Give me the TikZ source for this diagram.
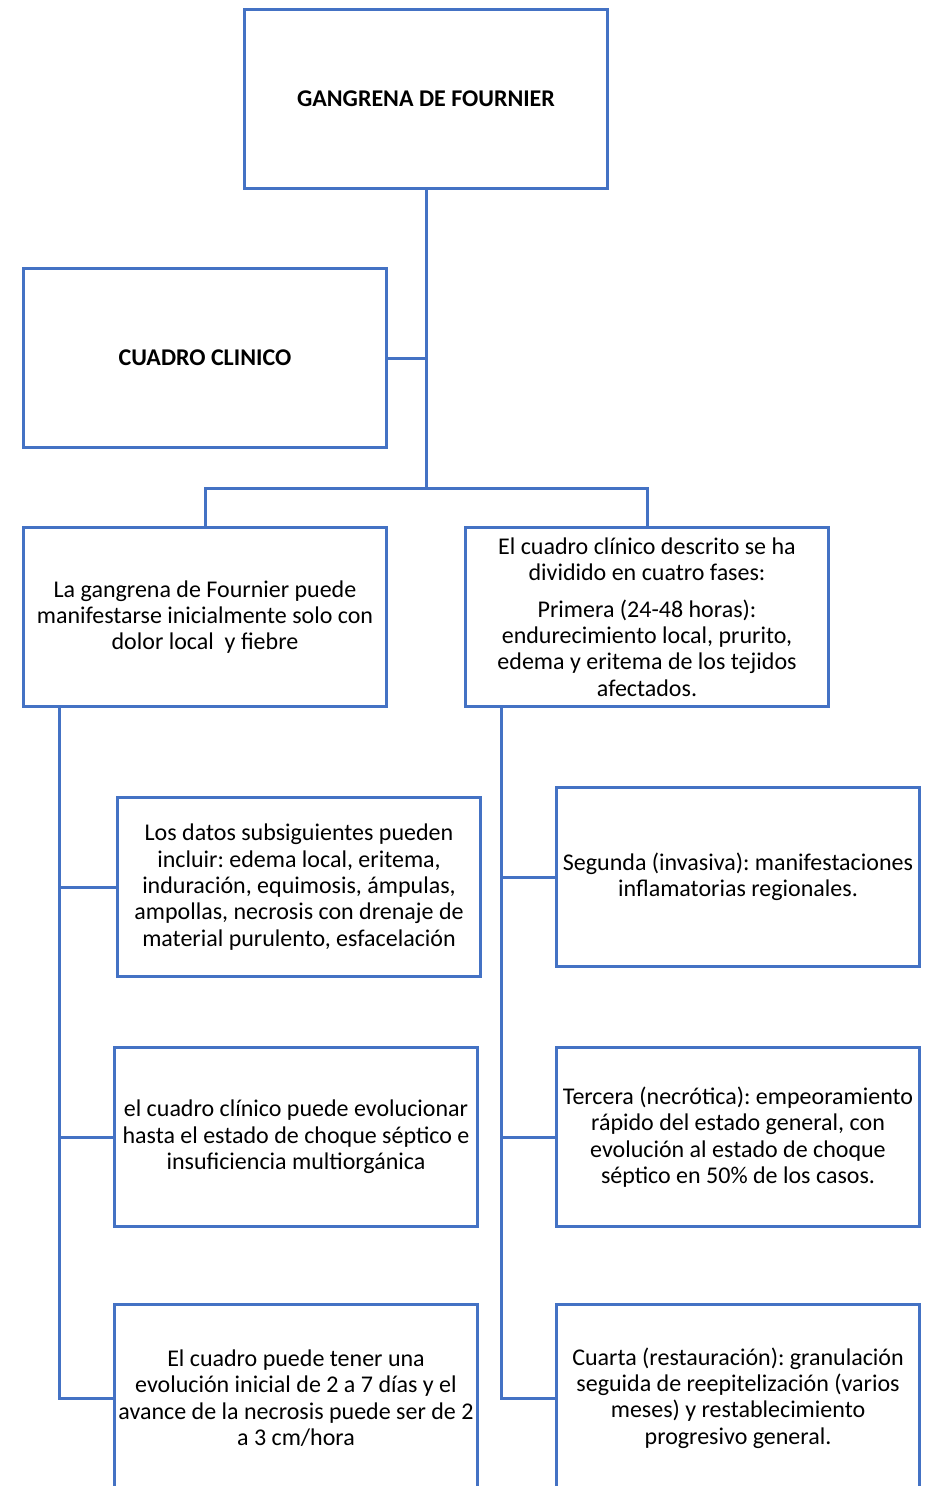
\documentclass[tikz,border=0pt]{standalone}
\usepackage{fontspec}
\setmainfont{Carlito}
\frenchspacing
\definecolor{boxblue}{HTML}{4472C4}
\begin{document}
\begin{tikzpicture}[x=1pt, y=-1pt,
    every node/.style={font=\fontsize{24}{26.4}\selectfont},
    box/.style={rectangle, draw=boxblue, line width=3pt, minimum width=363pt, minimum height=179pt, align=center, inner sep=2pt},
    lastbox/.style={box, minimum height=187pt},
    title/.style={box, font=\fontsize{24}{26.4}\selectfont\bfseries},
    link/.style={draw=boxblue, line width=3pt},
]
\useasboundingbox (0,0) rectangle (927,1486);

\node[title] (top) at (426,99) {GANGRENA DE FOURNIER};
\node[title] (cuadro) at (205,358) {CUADRO CLINICO};

\node[box] (inicio) at (205,617) {La gangrena de Fournier puede\\manifestarse inicialmente solo con\\dolor local\ \ y fiebre};
\node[box] (fases) at (647,617) {El cuadro clínico descrito se ha\\dividido en cuatro fases:\\[10pt]Primera (24-48 horas):\\endurecimiento local, prurito,\\edema y eritema de los tejidos\\afectados.};

\node[box] (datos) at (299,887) {Los datos subsiguientes pueden\\incluir: edema local, eritema,\\induración, equimosis, ámpulas,\\ampollas, necrosis con drenaje de\\material purulento, esfacelación};
\node[box] (evol) at (296,1137) {el cuadro clínico puede evolucionar\\hasta el estado de choque séptico e\\insuficiencia multiorgánica};
\node[lastbox] (avance) at (296,1398) {El cuadro puede tener una\\evolución inicial de 2 a 7 días y el\\avance de la necrosis puede ser de 2\\a 3 cm/hora};

\node[box] (segunda) at (738,877) {Segunda (invasiva): manifestaciones\\inflamatorias regionales.};
\node[box] (tercera) at (738,1137) {Tercera (necrótica): empeoramiento\\rápido del estado general, con\\evolución al estado de choque\\séptico en 50\% de los casos.};
\node[lastbox] (cuarta) at (738,1398) {Cuarta (restauración): granulación\\seguida de reepitelización (varios\\meses) y restablecimiento\\progresivo general.};

\coordinate (split) at (426,488);
\coordinate (lspine) at (59,708);
\coordinate (rspine) at (501,708);

\draw[link] (top) -- (split);
\draw[link] (cuadro.east) -- (cuadro.east -| split);
\draw[link] (inicio.north) |- (split) -| (fases.north);

\draw[link] (lspine) |- (avance.west);
\draw[link] (lspine |- datos.west) -- (datos.west);
\draw[link] (lspine |- evol.west) -- (evol.west);

\draw[link] (rspine) |- (cuarta.west);
\draw[link] (rspine |- segunda.west) -- (segunda.west);
\draw[link] (rspine |- tercera.west) -- (tercera.west);
\end{tikzpicture}
\end{document}
